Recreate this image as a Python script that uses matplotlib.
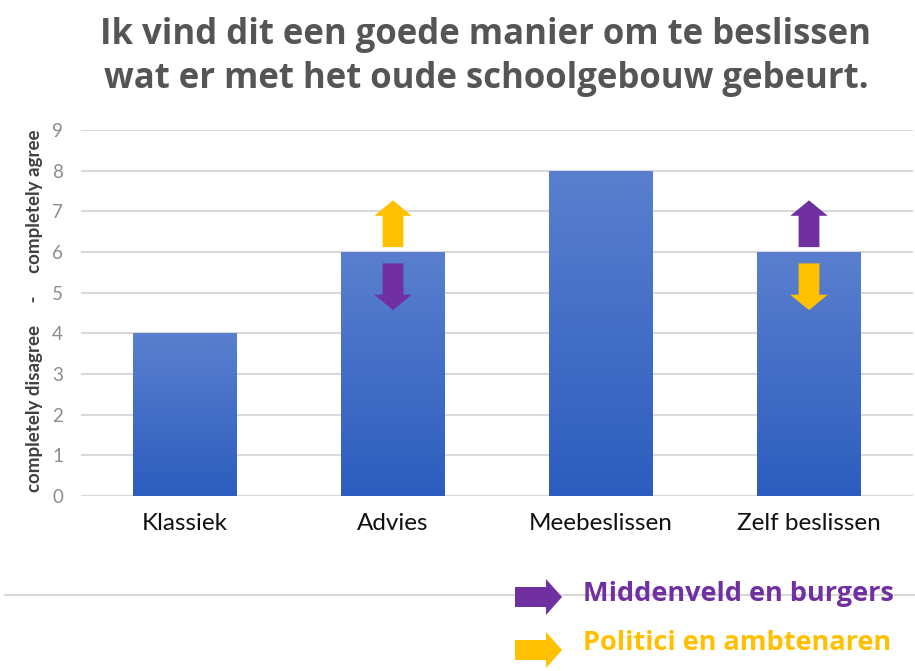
import numpy as np
import matplotlib.pyplot as plt
from matplotlib.patches import FancyArrow
from matplotlib.colors import LinearSegmentedColormap

# data
categories = ['Klassiek', 'Advies', 'Meebeslissen', 'Zelf beslissen']
scores = [4, 6, 8, 6]
# which group moves the score up / down per category (None = no arrow)
arrow_up = [None, 'politici', None, 'middenveld']
arrow_down = [None, 'middenveld', None, 'politici']
legend_labels = {'middenveld': 'Middenveld en burgers',
                 'politici': 'Politici en ambtenaren'}
group_colors = {'middenveld': '#7030A0', 'politici': '#FFC000'}

title = 'Ik vind dit een goede manier om te beslissen\nwat er met het oude schoolgebouw gebeurt.'
ylabel = 'completely disagree     -     completely agree'

W, H = 915, 671
fig = plt.figure(figsize=(W / 100, H / 100), dpi=100)
fig.patch.set_facecolor('white')

ax = fig.add_axes([81 / W, 175 / H, 832 / W, 366 / H])
x = np.arange(len(categories))
bars = ax.bar(x, scores, width=0.5, color='#3F6AC6', zorder=2)

# vertical gradient inside each bar
grad = np.linspace(0, 1, 256).reshape(-1, 1)
cmap = LinearSegmentedColormap.from_list('barblue', ['#2C5DBE', '#5A7FCE'])
for b in bars:
    x0, y0 = b.get_x(), b.get_y()
    im = ax.imshow(grad, cmap=cmap, aspect='auto', origin='lower',
                   extent=(x0, x0 + b.get_width(), y0, y0 + b.get_height()),
                   zorder=3)
    im.set_clip_path(b)

ax.set_xlim(-0.5, len(categories) - 0.5)
ax.set_ylim(0, 9)
ax.set_yticks(range(0, 10))
ax.yaxis.grid(True, color='#D9D9D9', linewidth=1.5, zorder=0)
ax.set_axisbelow(True)
for s in ax.spines.values():
    s.set_visible(False)
ax.tick_params(axis='both', length=0)
ax.tick_params(axis='y', labelsize=13.5, labelcolor='#8C8C8C', pad=13)
ax.tick_params(axis='x', labelsize=17.5, labelcolor='#111111', pad=12)
ax.set_xticks(x)
ax.set_xticklabels(categories, fontfamily='Lato')
for t in ax.get_yticklabels():
    t.set_fontfamily('Lato')

fig.text(35 / W, 1 - 311 / H, ylabel, rotation=90, ha='center', va='center',
         fontsize=13.5, fontweight='bold', color='#404040', fontfamily='Lato')

# arrows up (above the bar) and down (inside the bar)
shaft, head_w, head_l = 0.1, 0.18, 0.38
for i, s in enumerate(scores):
    if arrow_up[i]:
        ax.add_patch(FancyArrow(x[i], s + 0.12, 0, 1.15, width=shaft,
                                head_width=head_w, head_length=head_l,
                                length_includes_head=True,
                                color=group_colors[arrow_up[i]], lw=0, zorder=5))
    if arrow_down[i]:
        ax.add_patch(FancyArrow(x[i], s - 0.28, 0, -1.15, width=shaft,
                                head_width=head_w, head_length=head_l,
                                length_includes_head=True,
                                color=group_colors[arrow_down[i]], lw=0, zorder=5))

fig.text(0.531, 1 - 57 / H, title, ha='center', va='center', fontsize=25,
         fontweight='bold', color='#555555', fontfamily='Open Sans',
         linespacing=1.33)

# legend area in pixel coordinates
ov = fig.add_axes([0, 0, 1, 1], zorder=-1)
ov.set_xlim(0, W)
ov.set_ylim(H, 0)
ov.axis('off')
ov.plot([5, W], [595, 595], color='#D9D9D9', lw=1.5)

leg = fig.add_axes([0, 0, 1, 1], zorder=10)
leg.set_xlim(0, W)
leg.set_ylim(H, 0)
leg.axis('off')
for j, key in enumerate(['middenveld', 'politici']):
    yc = 597 + j * 53
    leg.add_patch(FancyArrow(515, yc, 47, 0, width=20, head_width=36,
                             head_length=16, length_includes_head=True,
                             color=group_colors[key], lw=0))
    leg.text(583, yc - 3 - j * 4, legend_labels[key], ha='left', va='center',
             fontsize=19.5, fontweight='bold', color=group_colors[key],
             fontfamily='Open Sans')

fig.savefig('out.png', dpi=100)
